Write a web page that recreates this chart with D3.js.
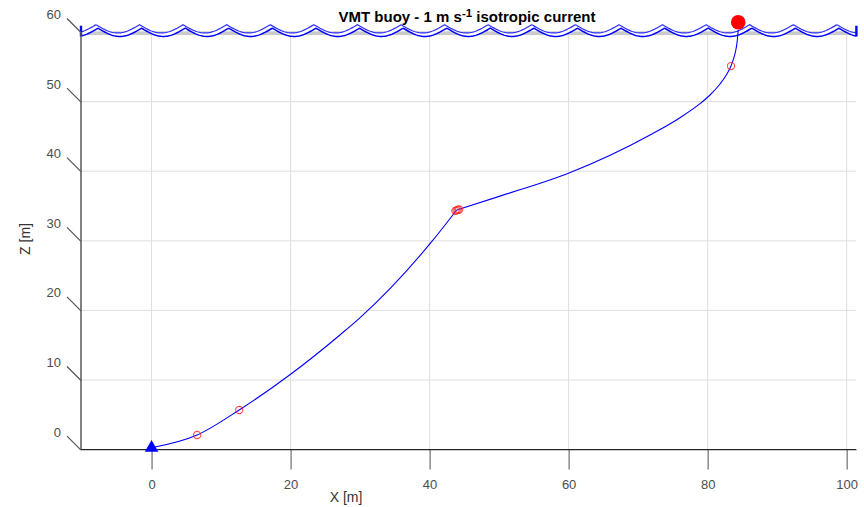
<!DOCTYPE html>
<html>
<head>
<meta charset="utf-8">
<script src="https://cdn.jsdelivr.net/npm/d3@7"></script>
<style>
  html, body { margin: 0; padding: 0; background: #fff; }
  svg { display: block; font-family: "Liberation Sans", Arial, Helvetica, sans-serif; }
</style>
</head>
<body>
<svg id="chart" width="864" height="507"></svg>
<script>
// Axis ticks
const xTicks = [0, 20, 40, 60, 80, 100];
const zTicks = [0, 10, 20, 30, 40, 50, 60];
const zGrid = [10, 20, 30, 40, 50];

// Mooring line, anchor up to the subsurface float cluster [m]
const cableLowerX = [0, 6.56, 12.61, 20.05, 27.1, 29.89, 40.3, 43.9];
const cableLowerZ = [0.26, 2.10, 5.69, 10.86, 16.47, 18.86, 29.87, 34.43];
// Mooring line, float cluster up to the surface buoy [m]
const cableUpperX = [43.9, 50.13, 60.06, 71.71, 76.03, 78.90, 80.34, 81.78, 82.64, 83.36, 83.79, 84.11, 84.27, 84.4];
const cableUpperZ = [34.43, 36.42, 39.74, 45.2, 47.69, 49.70, 50.95, 52.53, 53.75, 55.11, 56.35, 57.70, 58.85, 60.29];

// Floats along the line
const floatX = [6.56, 12.61, 43.7, 43.88, 44.06, 44.25, 83.36];
const floatZ = [2.10, 5.69, 34.3, 34.37, 34.44, 34.5, 55.11];

// Anchor and surface buoy
const anchorX = 0, anchorZ = 0.26;
const buoyX = 84.4, buoyZ = 61.4;

// Sea surface: crest position, wavelength, crest/trough heights of the far edge,
// and the offset of the near edge of the surface strip
const waveCrestX = -8.0;
const waveLength = 6.27;
const waveCrestZ = 61.05;
const waveTroughZ = 59.86;
const stripDX = 0.3, stripDZ = -0.5;

const svg = d3.select("#chart");

const x = d3.scaleLinear().domain([-10.15, 101.4]).range([81, 856.4]);
const z = d3.scaleLinear().domain([0, 60]).range([449.6, 32.0]);
const [xMin, xMax] = x.domain();

// grid
const grid = svg.append("g").attr("stroke", "#dedede").attr("stroke-width", 1).attr("fill", "none");
grid.selectAll("line.v").data(xTicks).join("line")
  .attr("x1", d => x(d)).attr("x2", d => x(d))
  .attr("y1", z(60)).attr("y2", z(0));
grid.selectAll("line.h").data(zGrid).join("line")
  .attr("x1", x(xMin)).attr("x2", x(xMax))
  .attr("y1", d => z(d)).attr("y2", d => z(d));

// surface plane seen edge-on
svg.append("rect")
  .attr("x", x(xMin)).attr("width", x(xMax) - x(xMin))
  .attr("y", z(60.1)).attr("height", z(59.55) - z(60.1))
  .attr("fill", "#cacaca");

// wave profile
function waveZ(X) {
  const t = (X - waveCrestX) / waveLength;
  return waveTroughZ + (waveCrestZ - waveTroughZ) * (1 - Math.abs(Math.sin(Math.PI * t)));
}
const nS = 900;
const farEdge = d3.range(nS + 1).map(i => {
  const X = xMin + (xMax - xMin) * i / nS;
  return [X, waveZ(X)];
});
const nearEdge = d3.range(nS + 1).map(i => {
  const X = xMin + (xMax - xMin) * i / nS;
  return [X, waveZ(X - stripDX) + stripDZ];
});
const pline = d3.line().x(d => x(d[0])).y(d => z(d[1]));

svg.append("path")
  .attr("d", pline(farEdge.concat(nearEdge.slice().reverse())) + "Z")
  .attr("fill", "#fff").attr("stroke", "none");
svg.append("path").attr("d", pline(farEdge))
  .attr("fill", "none").attr("stroke", "#2f2fff").attr("stroke-width", 1.2);
svg.append("path").attr("d", pline(nearEdge))
  .attr("fill", "none").attr("stroke", "#0000ff").attr("stroke-width", 1.5);

// strip end caps
[xMin, xMax].forEach(X => {
  svg.append("line")
    .attr("x1", x(X)).attr("x2", x(X))
    .attr("y1", z(waveCrestZ - 0.15)).attr("y2", z(waveTroughZ + stripDZ))
    .attr("stroke", "#0000ff").attr("stroke-width", 2.4);
});

// axes
const xAxis = svg.append("g").attr("transform", `translate(0,${z(0)})`)
  .call(d3.axisBottom(x).tickValues(xTicks).tickSize(20).tickPadding(10.5));
xAxis.select(".domain").remove();
xAxis.selectAll(".tick line").attr("stroke", "#6e6e6e").attr("stroke-width", 1.2);
xAxis.selectAll(".tick text").attr("fill", "#4d4d4d").attr("font-size", 13)
  .attr("font-family", "Liberation Sans, Arial, sans-serif");
svg.append("line")
  .attr("x1", x(xMin)).attr("x2", x(xMax)).attr("y1", z(0)).attr("y2", z(0))
  .attr("stroke", "#262626").attr("stroke-width", 1.2);

const zAxis = svg.append("g").attr("transform", `translate(${x(xMin)},0)`)
  .call(d3.axisLeft(z).tickValues(zTicks).tickSize(0));
zAxis.select(".domain").remove();
zAxis.selectAll(".tick line")
  .attr("x2", -14).attr("y2", -14)
  .attr("stroke", "#555").attr("stroke-width", 1.2);
zAxis.selectAll(".tick text")
  .attr("x", -20).attr("y", -18).attr("dy", "0.35em")
  .attr("fill", "#4d4d4d").attr("font-size", 13)
  .attr("font-family", "Liberation Sans, Arial, sans-serif");
svg.append("line")
  .attr("x1", x(xMin)).attr("x2", x(xMin)).attr("y1", z(60)).attr("y2", z(0))
  .attr("stroke", "#595959").attr("stroke-width", 1.5);

// axis titles
svg.append("text")
  .attr("x", 346).attr("y", 502).attr("text-anchor", "middle")
  .attr("font-size", 14).attr("fill", "#333").text("X [m]");
svg.append("text")
  .attr("transform", "translate(30,239) rotate(-90)")
  .attr("text-anchor", "middle")
  .attr("font-size", 14).attr("fill", "#333").text("Z [m]");

// mooring line
const cline = d3.line().x(d => x(d[0])).y(d => z(d[1])).curve(d3.curveMonotoneX);
[[cableLowerX, cableLowerZ], [cableUpperX, cableUpperZ]].forEach(([cx, cz]) => {
  svg.append("path")
    .attr("d", cline(cx.map((v, i) => [v, cz[i]])))
    .attr("fill", "none").attr("stroke", "#0000ff").attr("stroke-width", 1.1);
});

// floats
svg.append("g").selectAll("circle").data(floatX).join("circle")
  .attr("cx", d => x(d)).attr("cy", (d, i) => z(floatZ[i])).attr("r", 3.6)
  .attr("fill", "none").attr("stroke", "#ff2020").attr("stroke-opacity", 0.8).attr("stroke-width", 1.1);

// anchor
svg.append("path")
  .attr("d", d3.symbol(d3.symbolTriangle, 79)())
  .attr("transform", `translate(${x(anchorX)},${z(anchorZ)})`)
  .attr("fill", "#0000ff");

// surface buoy
svg.append("circle")
  .attr("cx", x(buoyX)).attr("cy", z(buoyZ)).attr("r", 7.3)
  .attr("fill", "#ff0000");

// title
const title = svg.append("text")
  .attr("x", 467).attr("y", 22.3).attr("text-anchor", "middle")
  .attr("font-size", 15).attr("font-weight", "bold").attr("fill", "#000");
title.append("tspan").text("VMT buoy - 1 m s");
title.append("tspan").attr("dy", -5).attr("font-size", 11.5).text("-1");
title.append("tspan").attr("dy", 5).text(" isotropic current");
</script>
</body>
</html>
